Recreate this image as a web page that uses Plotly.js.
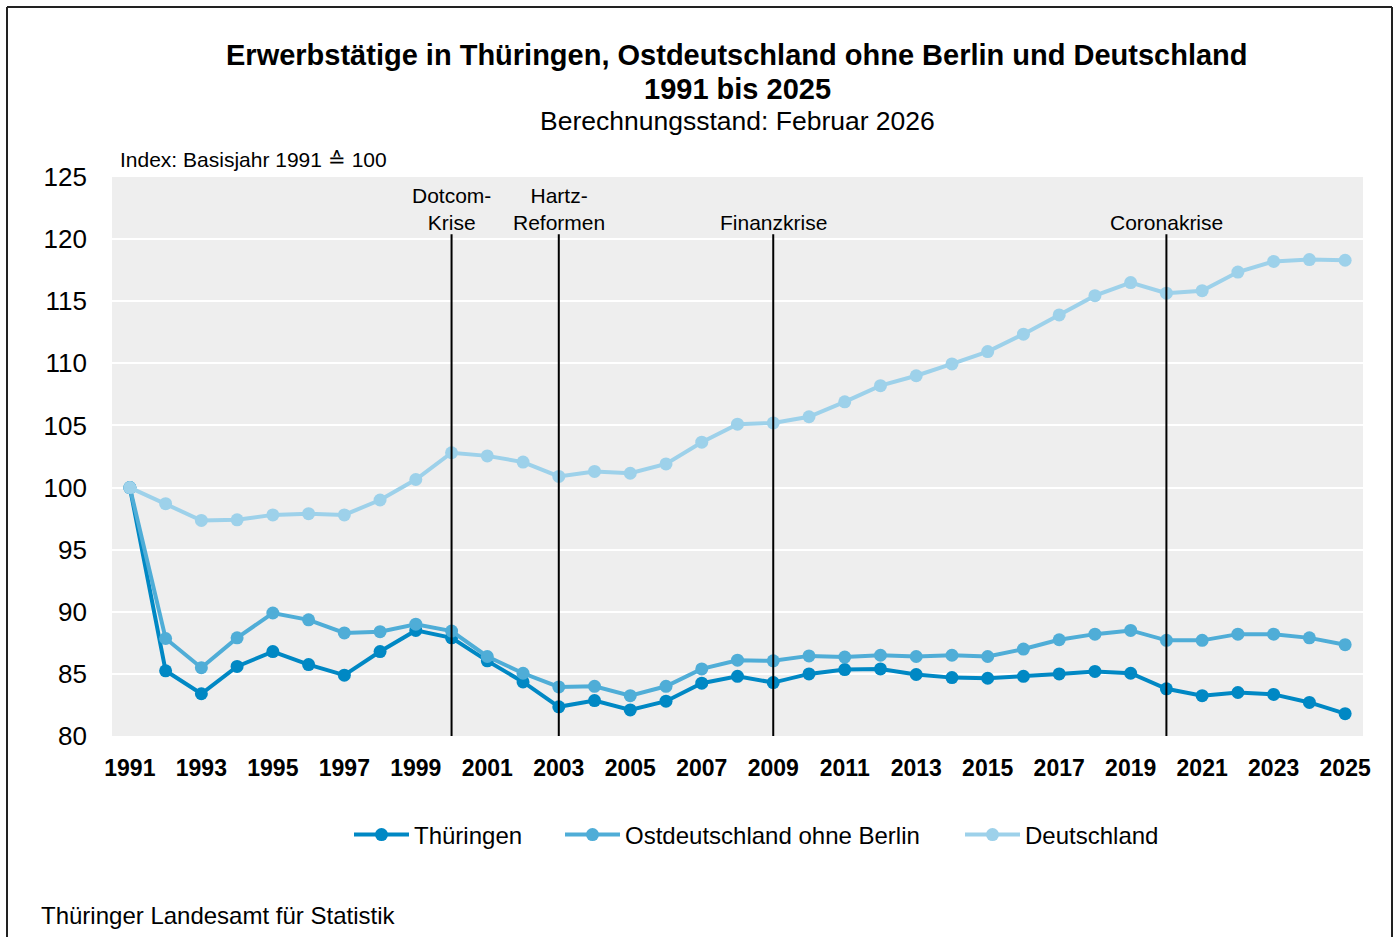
<!DOCTYPE html>
<html>
<head>
<meta charset="utf-8">
<script src="https://cdn.plot.ly/plotly-3.0.1.min.js"></script>
<style>html,body{margin:0;padding:0;background:#fff;}#chart{width:1399px;height:937px;}</style>
</head>
<body>
<div id="chart"></div>
<script>
const years = [1991,1992,1993,1994,1995,1996,1997,1998,1999,2000,2001,2002,2003,2004,2005,2006,2007,2008,2009,2010,2011,2012,2013,2014,2015,2016,2017,2018,2019,2020,2021,2022,2023,2024,2025];
const thueringen = [100,85.25,83.4,85.6,86.8,85.75,84.9,86.8,88.5,87.9,86.05,84.35,82.35,82.85,82.1,82.8,84.25,84.8,84.3,85.0,85.35,85.4,84.95,84.7,84.65,84.8,85.0,85.2,85.05,83.8,83.25,83.5,83.35,82.7,81.8];
const ostdeutschland = [100,87.85,85.5,87.9,89.9,89.35,88.3,88.4,89.0,88.45,86.4,85.05,83.95,84.0,83.25,84.0,85.4,86.1,86.05,86.45,86.35,86.5,86.4,86.5,86.4,87.0,87.75,88.2,88.5,87.7,87.7,88.2,88.2,87.9,87.35];
const deutschland = [100,98.7,97.35,97.4,97.8,97.9,97.8,99.0,100.65,102.8,102.55,102.05,100.9,101.3,101.15,101.9,103.65,105.1,105.2,105.7,106.9,108.2,109.0,109.95,110.95,112.35,113.9,115.45,116.5,115.65,115.85,117.35,118.2,118.35,118.3];
const seriesNames = ["Thüringen","Ostdeutschland ohne Berlin","Deutschland"];
const eventYears = [2000,2003,2009,2020];
const eventLabels = ["Dotcom-<br>Krise","Hartz-<br>Reformen","Finanzkrise","Coronakrise"];
const xTicks = [1991,1993,1995,1997,1999,2001,2003,2005,2007,2009,2011,2013,2015,2017,2019,2021,2023,2025];
const yTicks = [80,85,90,95,100,105,110,115,120,125];
const titleLines = ["Erwerbstätige in Thüringen, Ostdeutschland ohne Berlin und Deutschland","1991 bis 2025","Berechnungsstand: Februar 2026"];

const FONT = '"Liberation Sans", Arial, sans-serif';
const colors = ['#0088c4','#4fadd7','#9dd1ea'];
const legendIds = ['legend','legend2','legend3'];
const data = [thueringen, ostdeutschland, deutschland].map((vals,i)=>({
  x: years, y: vals, name: seriesNames[i], type:'scatter', mode:'lines+markers',
  line:{color:colors[i], width:4}, marker:{color:colors[i], size:13}, legend: legendIds[i]
}));

const L=112, W=1251, B=736, H=559;
const px = v => (v-L)/W, py = v => (B-v)/H;

const shapes = eventYears.map(yr=>({type:'line', xref:'x', yref:'y', x0:yr, x1:yr, y0:80, y1:120.4, line:{color:'#000', width:2}, layer:'above'}));
shapes.push({type:'line', xref:'paper', yref:'paper', x0:px(7), x1:px(1392), y0:py(7), y1:py(7), line:{color:'#222', width:2}});
shapes.push({type:'line', xref:'paper', yref:'paper', x0:px(7), x1:px(7), y0:py(7), y1:py(945), line:{color:'#222', width:2}});
shapes.push({type:'line', xref:'paper', yref:'paper', x0:px(1392), x1:px(1392), y0:py(7), y1:py(945), line:{color:'#222', width:2}});

const annotations = eventYears.map((yr,i)=>({x:yr, y:120.4, xref:'x', yref:'y', text:eventLabels[i], showarrow:false, yanchor:'bottom', xanchor:'center', font:{family:FONT, size:21, color:'#000'}, yshift:-2}));
const titleY = [55, 89, 121];
titleLines.forEach((t,i)=>annotations.push({xref:'paper', yref:'paper', x:px(737), y:py(titleY[i]), xanchor:'center', yanchor:'middle', showarrow:false, text: i<2 ? '<b>'+t+'</b>' : t, font:{family:FONT, size: i<2 ? 29 : 26.5, color:'#000'}}));
annotations.push({xref:'paper', yref:'paper', x:px(118), y:py(160), xanchor:'left', yanchor:'middle', text:'Index: Basisjahr 1991 ≙ 100', showarrow:false, font:{family:FONT, size:21, color:'#000'}});
annotations.push({xref:'paper', yref:'paper', x:px(39), y:py(916), xanchor:'left', yanchor:'middle', text:'Thüringer Landesamt für Statistik', showarrow:false, font:{family:FONT, size:24, color:'#000'}});

const legendX = [357, 568, 968];
const legendBase = {orientation:'h', xanchor:'left', yanchor:'middle', font:{family:FONT, size:24, color:'#000'}, itemwidth:55, bgcolor:'rgba(0,0,0,0)'};
const layout = {
  width:1399, height:937,
  margin:{l:L, r:1399-L-W, t:B-H, b:937-B},
  paper_bgcolor:'#fff', plot_bgcolor:'#eeeeee',
  font:{family:FONT, color:'#000'},
  xaxis:{range:[1990.5,2025.5], tickvals:xTicks, ticktext:xTicks.map(String), showgrid:false, zeroline:false, showline:false, ticks:'', ticklabelstandoff:16, tickfont:{family:FONT, size:23, color:'#000', weight:'bold'}, fixedrange:true},
  yaxis:{range:[80,125], tickvals:yTicks, showgrid:true, gridcolor:'#ffffff', gridwidth:2, zeroline:false, showline:false, ticks:'', ticklabelstandoff:24, tickfont:{family:FONT, size:26, color:'#000'}, fixedrange:true},
  legend:Object.assign({}, legendBase, {x:px(legendX[0]-8), y:py(835)}),
  legend2:Object.assign({}, legendBase, {x:px(legendX[1]-8), y:py(835)}),
  legend3:Object.assign({}, legendBase, {x:px(legendX[2]-8), y:py(835)}),
  showlegend:true,
  shapes:shapes, annotations:annotations
};
Plotly.newPlot('chart', data, layout, {displayModeBar:false, staticPlot:true});
</script>
</body>
</html>
